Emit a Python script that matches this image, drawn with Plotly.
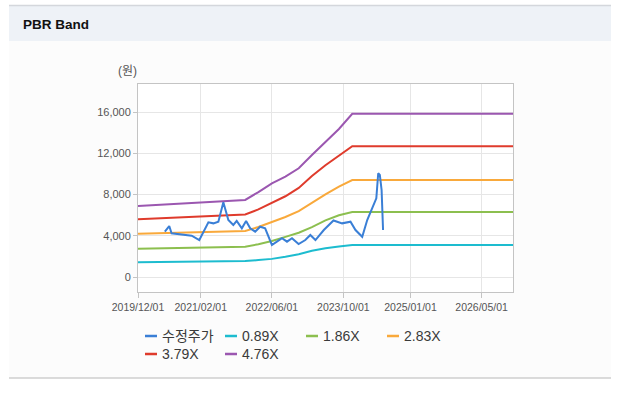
import plotly.graph_objects as go

# ---------------- data ----------------
band_dates = ["2019-12-01", "2020-06-01", "2020-12-01", "2021-06-01", "2021-12-01",
              "2022-03-01", "2022-06-01", "2022-09-01", "2022-12-01", "2023-03-01",
              "2023-06-01", "2023-09-01", "2023-12-01", "2026-12-01"]
band_476 = [6900, 7050, 7200, 7340, 7480, 8250, 9090, 9740, 10560, 11840, 13060, 14370, 15850, 15850]
band_379 = [5600, 5720, 5840, 5960, 6080, 6560, 7160, 7840, 8650, 9810, 10850, 11780, 12700, 12700]
band_283 = [4200, 4260, 4320, 4390, 4460, 4850, 5340, 5830, 6400, 7220, 8030, 8780, 9420, 9420]
band_186 = [2750, 2800, 2850, 2900, 2940, 3180, 3500, 3900, 4300, 4850, 5500, 6000, 6300, 6300]
band_089 = [1430, 1460, 1480, 1510, 1550, 1640, 1760, 1960, 2210, 2540, 2800, 2970, 3100, 3100]

price_dates = ["2020-06-01", "2020-07-01", "2020-07-17", "2020-10-04", "2020-12-01", "2021-01-22",
               "2021-03-25", "2021-04-28", "2021-06-01", "2021-07-05", "2021-08-08", "2021-09-11",
               "2021-10-04", "2021-11-08", "2021-12-07", "2022-01-04", "2022-02-07", "2022-03-13",
               "2022-04-16", "2022-05-09", "2022-06-01", "2022-07-05", "2022-08-09", "2022-09-12",
               "2022-10-16", "2022-11-30", "2023-01-15", "2023-02-18", "2023-03-25", "2023-05-21",
               "2023-07-26", "2023-09-23", "2023-11-19", "2023-12-23", "2024-02-07", "2024-03-12",
               "2024-04-16", "2024-05-13", "2024-05-26", "2024-06-06", "2024-06-18", "2024-06-28"]
price = [4400, 4950, 4240, 4080, 4010, 3590,
         5310, 5210, 5370, 7250, 5530, 5050,
         5440, 4730, 5440, 4730, 4400, 4880,
         4730, 3910, 3110, 3430, 3760, 3430,
         3760, 3200, 3590, 4080, 3590, 4560,
         5490, 5210, 5370, 4560, 3910, 5530,
         6830, 7640, 10070, 9900, 8450, 4560]

x_tickvals = ["2019-12-01", "2021-02-01", "2022-06-01", "2023-10-01", "2025-01-01", "2026-05-01"]
x_ticktext = ["2019/12/01", "2021/02/01", "2022/06/01", "2023/10/01", "2025/01/01", "2026/05/01"]
y_tickvals = [0, 4000, 8000, 12000, 16000]

series_names = ["수정주가", "0.89X", "1.86X", "2.83X", "3.79X", "4.76X"]
series_colors = ["#3a7fd6", "#1dbccf", "#8cbf4f", "#f9a93b", "#df3b2c", "#9b57b0"]

# ---------------- layout geometry (pixels) ----------------
W, H = 620, 393
L, R, T, B = 138, 513, 84, 292  # plot area box

# legend slots (pixel positions of swatch start / row centre)
legend_slots = [(145, 336), (225, 336), (306, 336), (387, 336), (145, 354), (225, 354)]


def px_x(p):
    return (p - L) / (R - L)


def px_y(p):
    return (B - p) / (B - T)


FONT = "Arial, 'Liberation Sans', 'Noto Sans CJK KR', sans-serif"

fig = go.Figure()

band_values = [band_089, band_186, band_283, band_379, band_476]
for name, col, vals in zip(series_names[1:], series_colors[1:], band_values):
    fig.add_trace(go.Scatter(x=band_dates, y=vals, name=name, mode="lines",
                             line=dict(color=col, width=2), showlegend=False))

fig.add_trace(go.Scatter(x=price_dates, y=price, name=series_names[0], mode="lines",
                         line=dict(color=series_colors[0], width=2), showlegend=False))

shapes = [
    # header band
    dict(type="rect", xref="paper", yref="paper", x0=px_x(9), x1=px_x(611), y0=px_y(41), y1=px_y(5),
         fillcolor="#eef2f7", line=dict(width=0), layer="below"),
    dict(type="line", xref="paper", yref="paper", x0=px_x(9), x1=px_x(611), y0=px_y(5.5), y1=px_y(5.5),
         line=dict(color="#d4d7dc", width=1.5), layer="below"),
    # body
    dict(type="rect", xref="paper", yref="paper", x0=px_x(9), x1=px_x(611), y0=px_y(378), y1=px_y(41),
         fillcolor="#fcfcfc", line=dict(width=0), layer="below"),
    dict(type="line", xref="paper", yref="paper", x0=px_x(9), x1=px_x(611), y0=px_y(378), y1=px_y(378),
         line=dict(color="#cfcfcf", width=1.5), layer="below"),
    # plot area white
    dict(type="rect", xref="paper", yref="paper", x0=0, x1=1, y0=0, y1=1,
         fillcolor="#ffffff", line=dict(width=0), layer="below"),
]

annotations = [
    dict(text="<b>PBR Band</b>", xref="paper", yref="paper", x=px_x(21), y=px_y(24.5),
         xanchor="left", yanchor="middle", showarrow=False,
         font=dict(family="'Liberation Sans', Arial, sans-serif", size=13.5, color="#111111")),
    dict(text="(원)", xref="paper", yref="paper", x=px_x(127), y=px_y(71),
         xanchor="center", yanchor="middle", showarrow=False,
         font=dict(family=FONT, size=12, color="#555555")),
]

# legend (two rows, short swatches like the original)
for name, col, (sx, sy) in zip(series_names, series_colors, legend_slots):
    shapes.append(dict(type="line", xref="paper", yref="paper",
                       x0=px_x(sx), x1=px_x(sx + 12), y0=px_y(sy), y1=px_y(sy),
                       line=dict(color=col, width=2.5)))
    annotations.append(dict(text=name, xref="paper", yref="paper", x=px_x(sx + 15), y=px_y(sy),
                            xanchor="left", yanchor="middle", showarrow=False,
                            font=dict(family=FONT, size=14, color="#3a3a3a")))

fig.update_layout(
    width=W, height=H,
    margin=dict(l=L, r=W - R, t=T, b=H - B),
    paper_bgcolor="#ffffff",
    plot_bgcolor="#ffffff",
    font=dict(family=FONT, size=11, color="#555555"),
    shapes=shapes,
    annotations=annotations,
    showlegend=False,
    xaxis=dict(type="date", range=["2019-12-01", "2026-12-01"],
               tickvals=x_tickvals, ticktext=x_ticktext,
               showgrid=True, gridcolor="#e6e6e6", gridwidth=1,
               showline=True, linecolor="#c4c4c4", linewidth=1, mirror=True,
               ticks="outside", ticklen=5, tickcolor="#c4c4c4",
               tickfont=dict(size=10.5, color="#555555"), zeroline=False),
    yaxis=dict(range=[-1456, 18740], tickvals=y_tickvals, tickformat=",",
               showgrid=True, gridcolor="#e6e6e6", gridwidth=1,
               showline=True, linecolor="#c4c4c4", linewidth=1, mirror=True,
               ticks="outside", ticklen=4, tickcolor="#c4c4c4",
               tickfont=dict(size=11, color="#555555"), zeroline=False),
)

fig.write_html("out.html", config={"displayModeBar": False},
               post_script="document.body.style.margin='0';document.body.style.overflow='hidden';")
